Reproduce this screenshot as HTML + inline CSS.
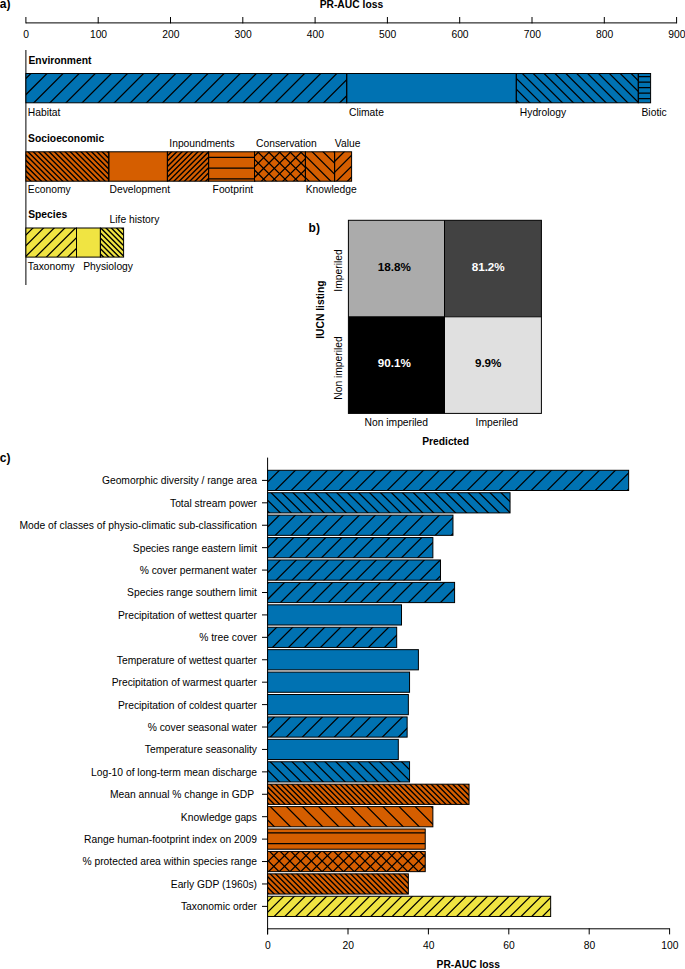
<!DOCTYPE html>
<html><head><meta charset="utf-8"><title>Figure</title>
<style>html,body{margin:0;padding:0;background:#fff;}body{width:685px;height:969px;overflow:hidden;font-family:"Liberation Sans",sans-serif;}svg{display:block;}</style></head>
<body>
<svg width="685" height="969" viewBox="0 0 685 969" font-family="'Liberation Sans', sans-serif" font-size="10.3"><defs><clipPath id="c1"><rect x="25.9" y="73.5" width="320.8" height="29.3"/></clipPath><clipPath id="c2"><rect x="516.3" y="73.5" width="122" height="29.3"/></clipPath><clipPath id="c3"><rect x="638.3" y="73.5" width="12.3" height="29.3"/></clipPath><clipPath id="c4"><rect x="25.9" y="151.8" width="82.9" height="29.4"/></clipPath><clipPath id="c5"><rect x="167.4" y="151.8" width="41.2" height="29.4"/></clipPath><clipPath id="c6"><rect x="208.6" y="151.8" width="45.9" height="29.4"/></clipPath><clipPath id="c7"><rect x="254.5" y="151.8" width="50.9" height="29.4"/></clipPath><clipPath id="c8"><rect x="254.5" y="151.8" width="50.9" height="29.4"/></clipPath><clipPath id="c9"><rect x="305.4" y="151.8" width="29.2" height="29.4"/></clipPath><clipPath id="c10"><rect x="334.6" y="151.8" width="17" height="29.4"/></clipPath><clipPath id="c11"><rect x="25.9" y="228" width="50.6" height="29.1"/></clipPath><clipPath id="c12"><rect x="100.4" y="228" width="23.2" height="29.1"/></clipPath><clipPath id="c13"><rect x="267.6" y="470.3" width="361.04" height="20.2"/></clipPath><clipPath id="c14"><rect x="267.6" y="492.72" width="242.45" height="20.2"/></clipPath><clipPath id="c15"><rect x="267.6" y="515.14" width="185.37" height="20.2"/></clipPath><clipPath id="c16"><rect x="267.6" y="537.56" width="165.27" height="20.2"/></clipPath><clipPath id="c17"><rect x="267.6" y="559.98" width="172.91" height="20.2"/></clipPath><clipPath id="c18"><rect x="267.6" y="582.4" width="186.98" height="20.2"/></clipPath><clipPath id="c19"><rect x="267.6" y="627.24" width="129.09" height="20.2"/></clipPath><clipPath id="c20"><rect x="267.6" y="716.92" width="139.54" height="20.2"/></clipPath><clipPath id="c21"><rect x="267.6" y="761.76" width="141.95" height="20.2"/></clipPath><clipPath id="c22"><rect x="267.6" y="784.18" width="201.45" height="20.2"/></clipPath><clipPath id="c23"><rect x="267.6" y="806.6" width="165.27" height="20.2"/></clipPath><clipPath id="c24"><rect x="267.6" y="829.02" width="157.63" height="20.2"/></clipPath><clipPath id="c25"><rect x="267.6" y="851.44" width="157.63" height="20.2"/></clipPath><clipPath id="c26"><rect x="267.6" y="851.44" width="157.63" height="20.2"/></clipPath><clipPath id="c27"><rect x="267.6" y="873.86" width="140.75" height="20.2"/></clipPath><clipPath id="c28"><rect x="267.6" y="896.28" width="283.06" height="20.2"/></clipPath></defs>
<text x="-0.3" y="8.4" font-size="12" fill="#000" font-weight="bold">a)</text>
<text x="351.4" y="8.2" font-size="10.3" fill="#000" font-weight="bold" text-anchor="middle">PR-AUC loss</text>
<line x1="25.9" y1="22.9" x2="676.6" y2="22.9" stroke="#000" stroke-width="1"/>
<line x1="25.9" y1="17" x2="25.9" y2="23.4" stroke="#000" stroke-width="1"/>
<text x="26.2" y="37.8" font-size="10.3" fill="#000" text-anchor="middle">0</text>
<line x1="98.2" y1="17" x2="98.2" y2="23.4" stroke="#000" stroke-width="1"/>
<text x="98.5" y="37.8" font-size="10.3" fill="#000" text-anchor="middle">100</text>
<line x1="170.5" y1="17" x2="170.5" y2="23.4" stroke="#000" stroke-width="1"/>
<text x="170.8" y="37.8" font-size="10.3" fill="#000" text-anchor="middle">200</text>
<line x1="242.8" y1="17" x2="242.8" y2="23.4" stroke="#000" stroke-width="1"/>
<text x="243.1" y="37.8" font-size="10.3" fill="#000" text-anchor="middle">300</text>
<line x1="315.1" y1="17" x2="315.1" y2="23.4" stroke="#000" stroke-width="1"/>
<text x="315.4" y="37.8" font-size="10.3" fill="#000" text-anchor="middle">400</text>
<line x1="387.4" y1="17" x2="387.4" y2="23.4" stroke="#000" stroke-width="1"/>
<text x="387.7" y="37.8" font-size="10.3" fill="#000" text-anchor="middle">500</text>
<line x1="459.7" y1="17" x2="459.7" y2="23.4" stroke="#000" stroke-width="1"/>
<text x="460" y="37.8" font-size="10.3" fill="#000" text-anchor="middle">600</text>
<line x1="532" y1="17" x2="532" y2="23.4" stroke="#000" stroke-width="1"/>
<text x="532.3" y="37.8" font-size="10.3" fill="#000" text-anchor="middle">700</text>
<line x1="604.3" y1="17" x2="604.3" y2="23.4" stroke="#000" stroke-width="1"/>
<text x="604.6" y="37.8" font-size="10.3" fill="#000" text-anchor="middle">800</text>
<line x1="676.6" y1="17" x2="676.6" y2="23.4" stroke="#000" stroke-width="1"/>
<text x="676.9" y="37.8" font-size="10.3" fill="#000" text-anchor="middle">900</text>
<line x1="25.9" y1="50" x2="25.9" y2="285" stroke="#000" stroke-width="1"/>
<text x="28.5" y="64" font-size="10.3" fill="#000" font-weight="bold">Environment</text>
<rect x="25.9" y="73.5" width="320.8" height="29.3" fill="#0072B2" stroke="none" stroke-width="1"/>
<rect x="346.7" y="73.5" width="169.6" height="29.3" fill="#0072B2" stroke="none" stroke-width="1"/>
<rect x="516.3" y="73.5" width="122" height="29.3" fill="#0072B2" stroke="none" stroke-width="1"/>
<rect x="638.3" y="73.5" width="12.3" height="29.3" fill="#0072B2" stroke="none" stroke-width="1"/>
<path clip-path="url(#c1)" d="M0.6 103.8L31.9 72.5M16.7 103.8L48 72.5M32.8 103.8L64.1 72.5M48.9 103.8L80.2 72.5M65 103.8L96.3 72.5M81.1 103.8L112.4 72.5M97.2 103.8L128.5 72.5M113.3 103.8L144.6 72.5M129.4 103.8L160.7 72.5M145.5 103.8L176.8 72.5M161.6 103.8L192.9 72.5M177.7 103.8L209 72.5M193.8 103.8L225.1 72.5M209.9 103.8L241.2 72.5M226 103.8L257.3 72.5M242.1 103.8L273.4 72.5M258.2 103.8L289.5 72.5M274.3 103.8L305.6 72.5M290.4 103.8L321.7 72.5M306.5 103.8L337.8 72.5M322.6 103.8L353.9 72.5M338.7 103.8L370 72.5" stroke="#000" stroke-width="1.25" fill="none"/>
<path clip-path="url(#c2)" d="M488.72 72.5L520.02 103.8M499.6 72.5L530.9 103.8M510.48 72.5L541.78 103.8M521.36 72.5L552.66 103.8M532.24 72.5L563.54 103.8M543.12 72.5L574.42 103.8M554 72.5L585.3 103.8M564.88 72.5L596.18 103.8M575.76 72.5L607.06 103.8M586.64 72.5L617.94 103.8M597.52 72.5L628.82 103.8M608.4 72.5L639.7 103.8M619.28 72.5L650.58 103.8M630.16 72.5L661.46 103.8" stroke="#000" stroke-width="1.25" fill="none"/>
<path clip-path="url(#c3)" d="M638.3 76.7L650.6 76.7M638.3 82.15L650.6 82.15M638.3 87.6L650.6 87.6M638.3 93.05L650.6 93.05M638.3 98.5L650.6 98.5" stroke="#000" stroke-width="1.25" fill="none"/>
<rect x="25.9" y="73.5" width="320.8" height="29.3" fill="none" stroke="#000" stroke-width="1"/>
<rect x="346.7" y="73.5" width="169.6" height="29.3" fill="none" stroke="#000" stroke-width="1"/>
<rect x="516.3" y="73.5" width="122" height="29.3" fill="none" stroke="#000" stroke-width="1"/>
<rect x="638.3" y="73.5" width="12.3" height="29.3" fill="none" stroke="#000" stroke-width="1"/>
<text x="27.8" y="116" font-size="10.3" fill="#000">Habitat</text>
<text x="349" y="116" font-size="10.3" fill="#000">Climate</text>
<text x="519.8" y="116" font-size="10.3" fill="#000">Hydrology</text>
<text x="641.5" y="116" font-size="10.3" fill="#000">Biotic</text>
<text x="28.1" y="142" font-size="10.3" fill="#000" font-weight="bold">Socioeconomic</text>
<rect x="25.9" y="151.8" width="82.9" height="29.4" fill="#D55E00" stroke="none" stroke-width="1"/>
<rect x="108.8" y="151.8" width="58.6" height="29.4" fill="#D55E00" stroke="none" stroke-width="1"/>
<rect x="167.4" y="151.8" width="41.2" height="29.4" fill="#D55E00" stroke="none" stroke-width="1"/>
<rect x="208.6" y="151.8" width="45.9" height="29.4" fill="#D55E00" stroke="none" stroke-width="1"/>
<rect x="254.5" y="151.8" width="50.9" height="29.4" fill="#D55E00" stroke="none" stroke-width="1"/>
<rect x="305.4" y="151.8" width="29.2" height="29.4" fill="#D55E00" stroke="none" stroke-width="1"/>
<rect x="334.6" y="151.8" width="17" height="29.4" fill="#D55E00" stroke="none" stroke-width="1"/>
<path clip-path="url(#c4)" d="M0.5 150.8L31.9 182.2M5.8 150.8L37.2 182.2M11.1 150.8L42.5 182.2M16.4 150.8L47.8 182.2M21.7 150.8L53.1 182.2M27 150.8L58.4 182.2M32.3 150.8L63.7 182.2M37.6 150.8L69 182.2M42.9 150.8L74.3 182.2M48.2 150.8L79.6 182.2M53.5 150.8L84.9 182.2M58.8 150.8L90.2 182.2M64.1 150.8L95.5 182.2M69.4 150.8L100.8 182.2M74.7 150.8L106.1 182.2M80 150.8L111.4 182.2M85.3 150.8L116.7 182.2M90.6 150.8L122 182.2M95.9 150.8L127.3 182.2M101.2 150.8L132.6 182.2M106.5 150.8L137.9 182.2" stroke="#000" stroke-width="1.4" fill="none"/>
<path clip-path="url(#c5)" d="M141.1 182.2L172.5 150.8M146.4 182.2L177.8 150.8M151.7 182.2L183.1 150.8M157 182.2L188.4 150.8M162.3 182.2L193.7 150.8M167.6 182.2L199 150.8M172.9 182.2L204.3 150.8M178.2 182.2L209.6 150.8M183.5 182.2L214.9 150.8M188.8 182.2L220.2 150.8M194.1 182.2L225.5 150.8M199.4 182.2L230.8 150.8M204.7 182.2L236.1 150.8" stroke="#000" stroke-width="1.4" fill="none"/>
<path clip-path="url(#c6)" d="M208.6 157.35L254.5 157.35M208.6 168.1L254.5 168.1M208.6 178.85L254.5 178.85" stroke="#000" stroke-width="1.25" fill="none"/>
<path clip-path="url(#c7)" d="M228.4 182.2L259.8 150.8M239.1 182.2L270.5 150.8M249.8 182.2L281.2 150.8M260.5 182.2L291.9 150.8M271.2 182.2L302.6 150.8M281.9 182.2L313.3 150.8M292.6 182.2L324 150.8M303.3 182.2L334.7 150.8" stroke="#000" stroke-width="1.25" fill="none"/>
<path clip-path="url(#c8)" d="M224.6 150.8L256 182.2M235.3 150.8L266.7 182.2M246 150.8L277.4 182.2M256.7 150.8L288.1 182.2M267.4 150.8L298.8 182.2M278.1 150.8L309.5 182.2M288.8 150.8L320.2 182.2M299.5 150.8L330.9 182.2" stroke="#000" stroke-width="1.25" fill="none"/>
<path clip-path="url(#c9)" d="M278.7 150.8L310.1 182.2M289.55 150.8L320.95 182.2M300.4 150.8L331.8 182.2M311.25 150.8L342.65 182.2M322.1 150.8L353.5 182.2M332.95 150.8L364.35 182.2" stroke="#000" stroke-width="1.25" fill="none"/>
<path clip-path="url(#c10)" d="M313.8 182.2L345.2 150.8M324.7 182.2L356.1 150.8M335.6 182.2L367 150.8M346.5 182.2L377.9 150.8" stroke="#000" stroke-width="1.25" fill="none"/>
<rect x="25.9" y="151.8" width="82.9" height="29.4" fill="none" stroke="#000" stroke-width="1"/>
<rect x="108.8" y="151.8" width="58.6" height="29.4" fill="none" stroke="#000" stroke-width="1"/>
<rect x="167.4" y="151.8" width="41.2" height="29.4" fill="none" stroke="#000" stroke-width="1"/>
<rect x="208.6" y="151.8" width="45.9" height="29.4" fill="none" stroke="#000" stroke-width="1"/>
<rect x="254.5" y="151.8" width="50.9" height="29.4" fill="none" stroke="#000" stroke-width="1"/>
<rect x="305.4" y="151.8" width="29.2" height="29.4" fill="none" stroke="#000" stroke-width="1"/>
<rect x="334.6" y="151.8" width="17" height="29.4" fill="none" stroke="#000" stroke-width="1"/>
<text x="27.8" y="192.7" font-size="10.3" fill="#000">Economy</text>
<text x="109.5" y="192.7" font-size="10.3" fill="#000">Development</text>
<text x="169.3" y="146.5" font-size="10.3" fill="#000">Inpoundments</text>
<text x="212.6" y="192.7" font-size="10.3" fill="#000">Footprint</text>
<text x="256" y="146.5" font-size="10.3" fill="#000">Conservation</text>
<text x="305.7" y="192.7" font-size="10.3" fill="#000">Knowledge</text>
<text x="334.8" y="146.5" font-size="10.3" fill="#000">Value</text>
<text x="28.2" y="217.9" font-size="10.3" fill="#000" font-weight="bold">Species</text>
<rect x="25.9" y="228" width="50.6" height="29.1" fill="#F0E442" stroke="none" stroke-width="1"/>
<rect x="76.5" y="228" width="23.9" height="29.1" fill="#F0E442" stroke="none" stroke-width="1"/>
<rect x="100.4" y="228" width="23.2" height="29.1" fill="#F0E442" stroke="none" stroke-width="1"/>
<path clip-path="url(#c11)" d="M2.8 258.1L33.9 227M13.45 258.1L44.55 227M24.1 258.1L55.2 227M34.75 258.1L65.85 227M45.4 258.1L76.5 227M56.05 258.1L87.15 227M66.7 258.1L97.8 227" stroke="#000" stroke-width="1.25" fill="none"/>
<path clip-path="url(#c12)" d="M73.43 227L104.53 258.1M78.7 227L109.8 258.1M83.97 227L115.07 258.1M89.24 227L120.34 258.1M94.51 227L125.61 258.1M99.78 227L130.88 258.1M105.05 227L136.15 258.1M110.32 227L141.42 258.1M115.59 227L146.69 258.1M120.86 227L151.96 258.1" stroke="#000" stroke-width="1.4" fill="none"/>
<rect x="25.9" y="228" width="50.6" height="29.1" fill="none" stroke="#000" stroke-width="1"/>
<rect x="76.5" y="228" width="23.9" height="29.1" fill="none" stroke="#000" stroke-width="1"/>
<rect x="100.4" y="228" width="23.2" height="29.1" fill="none" stroke="#000" stroke-width="1"/>
<text x="27.8" y="269.6" font-size="10.3" fill="#000">Taxonomy</text>
<text x="83.2" y="269.6" font-size="10.3" fill="#000">Physiology</text>
<text x="109.5" y="223.3" font-size="10.3" fill="#000">Life history</text>
<text x="308.6" y="232.2" font-size="12" fill="#000" font-weight="bold">b)</text>
<rect x="348.4" y="220.3" width="96.1" height="96.5" fill="#ABABAB" stroke="none" stroke-width="1"/>
<rect x="444.5" y="220.3" width="96.9" height="96.5" fill="#424242" stroke="none" stroke-width="1"/>
<rect x="348.4" y="316.8" width="96.1" height="96.6" fill="#000000" stroke="none" stroke-width="1"/>
<rect x="444.5" y="316.8" width="96.9" height="96.6" fill="#E0E0E0" stroke="none" stroke-width="1"/>
<line x1="444.5" y1="220.3" x2="444.5" y2="413.4" stroke="#000" stroke-width="1"/>
<line x1="348.4" y1="316.8" x2="541.4" y2="316.8" stroke="#000" stroke-width="1"/>
<rect x="348.4" y="220.3" width="193" height="193.1" fill="none" stroke="#000" stroke-width="1"/>
<text x="394.4" y="271" font-size="11.7" fill="#000" font-weight="bold" text-anchor="middle">18.8%</text>
<text x="488.2" y="271" font-size="11.7" fill="#fff" font-weight="bold" text-anchor="middle">81.2%</text>
<text x="394.4" y="367.2" font-size="11.7" fill="#fff" font-weight="bold" text-anchor="middle">90.1%</text>
<text x="488.2" y="367.2" font-size="11.7" fill="#000" font-weight="bold" text-anchor="middle">9.9%</text>
<text x="324.1" y="309.6" font-size="10.3" fill="#000" font-weight="bold" text-anchor="middle" transform="rotate(-90 324.1 309.6)">IUCN listing</text>
<text x="342" y="270.5" font-size="10.3" fill="#000" text-anchor="middle" transform="rotate(-90 342 270.5)">Imperiled</text>
<text x="342" y="368" font-size="10.3" fill="#000" text-anchor="middle" transform="rotate(-90 342 368)">Non imperiled</text>
<text x="396.3" y="425.6" font-size="10.3" fill="#000" text-anchor="middle">Non imperiled</text>
<text x="496.8" y="425.6" font-size="10.3" fill="#000" text-anchor="middle">Imperiled</text>
<text x="445.6" y="445.2" font-size="10.3" fill="#000" font-weight="bold" text-anchor="middle">Predicted</text>
<text x="-0.2" y="462" font-size="12" fill="#000" font-weight="bold">c)</text>
<line x1="267.6" y1="457.6" x2="267.6" y2="934.4" stroke="#000" stroke-width="1"/>
<line x1="267.6" y1="928.8" x2="669.6" y2="928.8" stroke="#000" stroke-width="1"/>
<line x1="267.6" y1="928.3" x2="267.6" y2="934.4" stroke="#000" stroke-width="1"/>
<text x="267.9" y="948.8" font-size="10.3" fill="#000" text-anchor="middle">0</text>
<line x1="348" y1="928.3" x2="348" y2="934.4" stroke="#000" stroke-width="1"/>
<text x="348.3" y="948.8" font-size="10.3" fill="#000" text-anchor="middle">20</text>
<line x1="428.4" y1="928.3" x2="428.4" y2="934.4" stroke="#000" stroke-width="1"/>
<text x="428.7" y="948.8" font-size="10.3" fill="#000" text-anchor="middle">40</text>
<line x1="508.8" y1="928.3" x2="508.8" y2="934.4" stroke="#000" stroke-width="1"/>
<text x="509.1" y="948.8" font-size="10.3" fill="#000" text-anchor="middle">60</text>
<line x1="589.2" y1="928.3" x2="589.2" y2="934.4" stroke="#000" stroke-width="1"/>
<text x="589.5" y="948.8" font-size="10.3" fill="#000" text-anchor="middle">80</text>
<line x1="669.6" y1="928.3" x2="669.6" y2="934.4" stroke="#000" stroke-width="1"/>
<text x="669.9" y="948.8" font-size="10.3" fill="#000" text-anchor="middle">100</text>
<text x="468.3" y="968.2" font-size="10.3" fill="#000" font-weight="bold" text-anchor="middle">PR-AUC loss</text>
<rect x="267.6" y="470.3" width="361.04" height="20.2" fill="#0072B2" stroke="none" stroke-width="1"/>
<path clip-path="url(#c13)" d="M258.2 491.5L280.4 469.3M274.2 491.5L296.4 469.3M290.2 491.5L312.4 469.3M306.2 491.5L328.4 469.3M322.2 491.5L344.4 469.3M338.2 491.5L360.4 469.3M354.2 491.5L376.4 469.3M370.2 491.5L392.4 469.3M386.2 491.5L408.4 469.3M402.2 491.5L424.4 469.3M418.2 491.5L440.4 469.3M434.2 491.5L456.4 469.3M450.2 491.5L472.4 469.3M466.2 491.5L488.4 469.3M482.2 491.5L504.4 469.3M498.2 491.5L520.4 469.3M514.2 491.5L536.4 469.3M530.2 491.5L552.4 469.3M546.2 491.5L568.4 469.3M562.2 491.5L584.4 469.3M578.2 491.5L600.4 469.3M594.2 491.5L616.4 469.3M610.2 491.5L632.4 469.3M626.2 491.5L648.4 469.3" stroke="#000" stroke-width="1.25" fill="none"/>
<rect x="267.6" y="470.3" width="361.04" height="20.2" fill="none" stroke="#000" stroke-width="1"/>
<line x1="262" y1="480.4" x2="267.6" y2="480.4" stroke="#000" stroke-width="1"/>
<text x="257" y="484.3" font-size="10.3" fill="#000" text-anchor="end">Geomorphic diversity / range area</text>
<rect x="267.6" y="492.72" width="242.45" height="20.2" fill="#0072B2" stroke="none" stroke-width="1"/>
<path clip-path="url(#c14)" d="M248.25 491.72L270.45 513.92M259.2 491.72L281.4 513.92M270.15 491.72L292.35 513.92M281.1 491.72L303.3 513.92M292.05 491.72L314.25 513.92M303 491.72L325.2 513.92M313.95 491.72L336.15 513.92M324.9 491.72L347.1 513.92M335.85 491.72L358.05 513.92M346.8 491.72L369 513.92M357.75 491.72L379.95 513.92M368.7 491.72L390.9 513.92M379.65 491.72L401.85 513.92M390.6 491.72L412.8 513.92M401.55 491.72L423.75 513.92M412.5 491.72L434.7 513.92M423.45 491.72L445.65 513.92M434.4 491.72L456.6 513.92M445.35 491.72L467.55 513.92M456.3 491.72L478.5 513.92M467.25 491.72L489.45 513.92M478.2 491.72L500.4 513.92M489.15 491.72L511.35 513.92M500.1 491.72L522.3 513.92" stroke="#000" stroke-width="1.25" fill="none"/>
<rect x="267.6" y="492.72" width="242.45" height="20.2" fill="none" stroke="#000" stroke-width="1"/>
<line x1="262" y1="502.82" x2="267.6" y2="502.82" stroke="#000" stroke-width="1"/>
<text x="257" y="506.72" font-size="10.3" fill="#000" text-anchor="end">Total stream power</text>
<rect x="267.6" y="515.14" width="185.37" height="20.2" fill="#0072B2" stroke="none" stroke-width="1"/>
<path clip-path="url(#c15)" d="M258.2 536.34L280.4 514.14M274.2 536.34L296.4 514.14M290.2 536.34L312.4 514.14M306.2 536.34L328.4 514.14M322.2 536.34L344.4 514.14M338.2 536.34L360.4 514.14M354.2 536.34L376.4 514.14M370.2 536.34L392.4 514.14M386.2 536.34L408.4 514.14M402.2 536.34L424.4 514.14M418.2 536.34L440.4 514.14M434.2 536.34L456.4 514.14M450.2 536.34L472.4 514.14" stroke="#000" stroke-width="1.25" fill="none"/>
<rect x="267.6" y="515.14" width="185.37" height="20.2" fill="none" stroke="#000" stroke-width="1"/>
<line x1="262" y1="525.24" x2="267.6" y2="525.24" stroke="#000" stroke-width="1"/>
<text x="257" y="529.14" font-size="10.3" fill="#000" text-anchor="end">Mode of classes of physio-climatic sub-classification</text>
<rect x="267.6" y="537.56" width="165.27" height="20.2" fill="#0072B2" stroke="none" stroke-width="1"/>
<path clip-path="url(#c16)" d="M256.5 558.76L278.7 536.56M272.5 558.76L294.7 536.56M288.5 558.76L310.7 536.56M304.5 558.76L326.7 536.56M320.5 558.76L342.7 536.56M336.5 558.76L358.7 536.56M352.5 558.76L374.7 536.56M368.5 558.76L390.7 536.56M384.5 558.76L406.7 536.56M400.5 558.76L422.7 536.56M416.5 558.76L438.7 536.56" stroke="#000" stroke-width="1.25" fill="none"/>
<rect x="267.6" y="537.56" width="165.27" height="20.2" fill="none" stroke="#000" stroke-width="1"/>
<line x1="262" y1="547.66" x2="267.6" y2="547.66" stroke="#000" stroke-width="1"/>
<text x="257" y="551.56" font-size="10.3" fill="#000" text-anchor="end">Species range eastern limit</text>
<rect x="267.6" y="559.98" width="172.91" height="20.2" fill="#0072B2" stroke="none" stroke-width="1"/>
<path clip-path="url(#c17)" d="M259.1 581.18L281.3 558.98M275.1 581.18L297.3 558.98M291.1 581.18L313.3 558.98M307.1 581.18L329.3 558.98M323.1 581.18L345.3 558.98M339.1 581.18L361.3 558.98M355.1 581.18L377.3 558.98M371.1 581.18L393.3 558.98M387.1 581.18L409.3 558.98M403.1 581.18L425.3 558.98M419.1 581.18L441.3 558.98M435.1 581.18L457.3 558.98" stroke="#000" stroke-width="1.25" fill="none"/>
<rect x="267.6" y="559.98" width="172.91" height="20.2" fill="none" stroke="#000" stroke-width="1"/>
<line x1="262" y1="570.08" x2="267.6" y2="570.08" stroke="#000" stroke-width="1"/>
<text x="257" y="573.98" font-size="10.3" fill="#000" text-anchor="end">% cover permanent water</text>
<rect x="267.6" y="582.4" width="186.98" height="20.2" fill="#0072B2" stroke="none" stroke-width="1"/>
<path clip-path="url(#c18)" d="M247.4 603.6L269.6 581.4M263.4 603.6L285.6 581.4M279.4 603.6L301.6 581.4M295.4 603.6L317.6 581.4M311.4 603.6L333.6 581.4M327.4 603.6L349.6 581.4M343.4 603.6L365.6 581.4M359.4 603.6L381.6 581.4M375.4 603.6L397.6 581.4M391.4 603.6L413.6 581.4M407.4 603.6L429.6 581.4M423.4 603.6L445.6 581.4M439.4 603.6L461.6 581.4" stroke="#000" stroke-width="1.25" fill="none"/>
<rect x="267.6" y="582.4" width="186.98" height="20.2" fill="none" stroke="#000" stroke-width="1"/>
<line x1="262" y1="592.5" x2="267.6" y2="592.5" stroke="#000" stroke-width="1"/>
<text x="257" y="596.4" font-size="10.3" fill="#000" text-anchor="end">Species range southern limit</text>
<rect x="267.6" y="604.82" width="133.91" height="20.2" fill="#0072B2" stroke="none" stroke-width="1"/>
<rect x="267.6" y="604.82" width="133.91" height="20.2" fill="none" stroke="#000" stroke-width="1"/>
<line x1="262" y1="614.92" x2="267.6" y2="614.92" stroke="#000" stroke-width="1"/>
<text x="257" y="618.82" font-size="10.3" fill="#000" text-anchor="end">Precipitation of wettest quarter</text>
<rect x="267.6" y="627.24" width="129.09" height="20.2" fill="#0072B2" stroke="none" stroke-width="1"/>
<path clip-path="url(#c19)" d="M255.5 648.44L277.7 626.24M271.5 648.44L293.7 626.24M287.5 648.44L309.7 626.24M303.5 648.44L325.7 626.24M319.5 648.44L341.7 626.24M335.5 648.44L357.7 626.24M351.5 648.44L373.7 626.24M367.5 648.44L389.7 626.24M383.5 648.44L405.7 626.24" stroke="#000" stroke-width="1.25" fill="none"/>
<rect x="267.6" y="627.24" width="129.09" height="20.2" fill="none" stroke="#000" stroke-width="1"/>
<line x1="262" y1="637.34" x2="267.6" y2="637.34" stroke="#000" stroke-width="1"/>
<text x="257" y="641.24" font-size="10.3" fill="#000" text-anchor="end">% tree cover</text>
<rect x="267.6" y="649.66" width="150.8" height="20.2" fill="#0072B2" stroke="none" stroke-width="1"/>
<rect x="267.6" y="649.66" width="150.8" height="20.2" fill="none" stroke="#000" stroke-width="1"/>
<line x1="262" y1="659.76" x2="267.6" y2="659.76" stroke="#000" stroke-width="1"/>
<text x="257" y="663.66" font-size="10.3" fill="#000" text-anchor="end">Temperature of wettest quarter</text>
<rect x="267.6" y="672.08" width="141.95" height="20.2" fill="#0072B2" stroke="none" stroke-width="1"/>
<rect x="267.6" y="672.08" width="141.95" height="20.2" fill="none" stroke="#000" stroke-width="1"/>
<line x1="262" y1="682.18" x2="267.6" y2="682.18" stroke="#000" stroke-width="1"/>
<text x="257" y="686.08" font-size="10.3" fill="#000" text-anchor="end">Precipitation of warmest quarter</text>
<rect x="267.6" y="694.5" width="140.75" height="20.2" fill="#0072B2" stroke="none" stroke-width="1"/>
<rect x="267.6" y="694.5" width="140.75" height="20.2" fill="none" stroke="#000" stroke-width="1"/>
<line x1="262" y1="704.6" x2="267.6" y2="704.6" stroke="#000" stroke-width="1"/>
<text x="257" y="708.5" font-size="10.3" fill="#000" text-anchor="end">Precipitation of coldest quarter</text>
<rect x="267.6" y="716.92" width="139.54" height="20.2" fill="#0072B2" stroke="none" stroke-width="1"/>
<path clip-path="url(#c20)" d="M253.3 738.12L275.5 715.92M269.3 738.12L291.5 715.92M285.3 738.12L307.5 715.92M301.3 738.12L323.5 715.92M317.3 738.12L339.5 715.92M333.3 738.12L355.5 715.92M349.3 738.12L371.5 715.92M365.3 738.12L387.5 715.92M381.3 738.12L403.5 715.92M397.3 738.12L419.5 715.92" stroke="#000" stroke-width="1.25" fill="none"/>
<rect x="267.6" y="716.92" width="139.54" height="20.2" fill="none" stroke="#000" stroke-width="1"/>
<line x1="262" y1="727.02" x2="267.6" y2="727.02" stroke="#000" stroke-width="1"/>
<text x="257" y="730.92" font-size="10.3" fill="#000" text-anchor="end">% cover seasonal water</text>
<rect x="267.6" y="739.34" width="130.7" height="20.2" fill="#0072B2" stroke="none" stroke-width="1"/>
<rect x="267.6" y="739.34" width="130.7" height="20.2" fill="none" stroke="#000" stroke-width="1"/>
<line x1="262" y1="749.44" x2="267.6" y2="749.44" stroke="#000" stroke-width="1"/>
<text x="257" y="753.34" font-size="10.3" fill="#000" text-anchor="end">Temperature seasonality</text>
<rect x="267.6" y="761.76" width="141.95" height="20.2" fill="#0072B2" stroke="none" stroke-width="1"/>
<path clip-path="url(#c21)" d="M247.35 760.76L269.55 782.96M258.3 760.76L280.5 782.96M269.25 760.76L291.45 782.96M280.2 760.76L302.4 782.96M291.15 760.76L313.35 782.96M302.1 760.76L324.3 782.96M313.05 760.76L335.25 782.96M324 760.76L346.2 782.96M334.95 760.76L357.15 782.96M345.9 760.76L368.1 782.96M356.85 760.76L379.05 782.96M367.8 760.76L390 782.96M378.75 760.76L400.95 782.96M389.7 760.76L411.9 782.96M400.65 760.76L422.85 782.96" stroke="#000" stroke-width="1.25" fill="none"/>
<rect x="267.6" y="761.76" width="141.95" height="20.2" fill="none" stroke="#000" stroke-width="1"/>
<line x1="262" y1="771.86" x2="267.6" y2="771.86" stroke="#000" stroke-width="1"/>
<text x="257" y="775.76" font-size="10.3" fill="#000" text-anchor="end">Log-10 of long-term mean discharge</text>
<rect x="267.6" y="784.18" width="201.45" height="20.2" fill="#D55E00" stroke="none" stroke-width="1"/>
<path clip-path="url(#c22)" d="M247.89 783.18L270.09 805.38M253.25 783.18L275.45 805.38M258.61 783.18L280.81 805.38M263.97 783.18L286.17 805.38M269.33 783.18L291.53 805.38M274.69 783.18L296.89 805.38M280.05 783.18L302.25 805.38M285.41 783.18L307.61 805.38M290.77 783.18L312.97 805.38M296.13 783.18L318.33 805.38M301.49 783.18L323.69 805.38M306.85 783.18L329.05 805.38M312.21 783.18L334.41 805.38M317.57 783.18L339.77 805.38M322.93 783.18L345.13 805.38M328.29 783.18L350.49 805.38M333.65 783.18L355.85 805.38M339.01 783.18L361.21 805.38M344.37 783.18L366.57 805.38M349.73 783.18L371.93 805.38M355.09 783.18L377.29 805.38M360.45 783.18L382.65 805.38M365.81 783.18L388.01 805.38M371.17 783.18L393.37 805.38M376.53 783.18L398.73 805.38M381.89 783.18L404.09 805.38M387.25 783.18L409.45 805.38M392.61 783.18L414.81 805.38M397.97 783.18L420.17 805.38M403.33 783.18L425.53 805.38M408.69 783.18L430.89 805.38M414.05 783.18L436.25 805.38M419.41 783.18L441.61 805.38M424.77 783.18L446.97 805.38M430.13 783.18L452.33 805.38M435.49 783.18L457.69 805.38M440.85 783.18L463.05 805.38M446.21 783.18L468.41 805.38M451.57 783.18L473.77 805.38M456.93 783.18L479.13 805.38M462.29 783.18L484.49 805.38M467.65 783.18L489.85 805.38" stroke="#000" stroke-width="1.4" fill="none"/>
<rect x="267.6" y="784.18" width="201.45" height="20.2" fill="none" stroke="#000" stroke-width="1"/>
<line x1="262" y1="794.28" x2="267.6" y2="794.28" stroke="#000" stroke-width="1"/>
<text x="254.14" y="798.18" font-size="10.3" fill="#000" text-anchor="end">Mean annual % change in GDP</text>
<rect x="267.6" y="806.6" width="165.27" height="20.2" fill="#D55E00" stroke="none" stroke-width="1"/>
<path clip-path="url(#c23)" d="M253.25 805.6L275.45 827.8M269.35 805.6L291.55 827.8M285.45 805.6L307.65 827.8M301.55 805.6L323.75 827.8M317.65 805.6L339.85 827.8M333.75 805.6L355.95 827.8M349.85 805.6L372.05 827.8M365.95 805.6L388.15 827.8M382.05 805.6L404.25 827.8M398.15 805.6L420.35 827.8M414.25 805.6L436.45 827.8M430.35 805.6L452.55 827.8" stroke="#000" stroke-width="1.25" fill="none"/>
<rect x="267.6" y="806.6" width="165.27" height="20.2" fill="none" stroke="#000" stroke-width="1"/>
<line x1="262" y1="816.7" x2="267.6" y2="816.7" stroke="#000" stroke-width="1"/>
<text x="257" y="820.6" font-size="10.3" fill="#000" text-anchor="end">Knowledge gaps</text>
<rect x="267.6" y="829.02" width="157.63" height="20.2" fill="#D55E00" stroke="none" stroke-width="1"/>
<path clip-path="url(#c24)" d="M267.6 832.82L425.23 832.82M267.6 843.52L425.23 843.52" stroke="#000" stroke-width="1.25" fill="none"/>
<rect x="267.6" y="829.02" width="157.63" height="20.2" fill="none" stroke="#000" stroke-width="1"/>
<line x1="262" y1="839.12" x2="267.6" y2="839.12" stroke="#000" stroke-width="1"/>
<text x="257" y="843.02" font-size="10.3" fill="#000" text-anchor="end">Range human-footprint index on 2009</text>
<rect x="267.6" y="851.44" width="157.63" height="20.2" fill="#D55E00" stroke="none" stroke-width="1"/>
<path clip-path="url(#c25)" d="M256.81 872.64L279.01 850.44M267.54 872.64L289.74 850.44M278.27 872.64L300.47 850.44M289 872.64L311.2 850.44M299.73 872.64L321.93 850.44M310.46 872.64L332.66 850.44M321.19 872.64L343.39 850.44M331.92 872.64L354.12 850.44M342.65 872.64L364.85 850.44M353.38 872.64L375.58 850.44M364.11 872.64L386.31 850.44M374.84 872.64L397.04 850.44M385.57 872.64L407.77 850.44M396.3 872.64L418.5 850.44M407.03 872.64L429.23 850.44M417.76 872.64L439.96 850.44" stroke="#000" stroke-width="1.25" fill="none"/>
<path clip-path="url(#c26)" d="M247.13 850.44L269.33 872.64M257.86 850.44L280.06 872.64M268.59 850.44L290.79 872.64M279.32 850.44L301.52 872.64M290.05 850.44L312.25 872.64M300.78 850.44L322.98 872.64M311.51 850.44L333.71 872.64M322.24 850.44L344.44 872.64M332.97 850.44L355.17 872.64M343.7 850.44L365.9 872.64M354.43 850.44L376.63 872.64M365.16 850.44L387.36 872.64M375.89 850.44L398.09 872.64M386.62 850.44L408.82 872.64M397.35 850.44L419.55 872.64M408.08 850.44L430.28 872.64M418.81 850.44L441.01 872.64" stroke="#000" stroke-width="1.25" fill="none"/>
<rect x="267.6" y="851.44" width="157.63" height="20.2" fill="none" stroke="#000" stroke-width="1"/>
<line x1="262" y1="861.54" x2="267.6" y2="861.54" stroke="#000" stroke-width="1"/>
<text x="257" y="865.44" font-size="10.3" fill="#000" text-anchor="end">% protected area within species range</text>
<rect x="267.6" y="873.86" width="140.75" height="20.2" fill="#D55E00" stroke="none" stroke-width="1"/>
<path clip-path="url(#c27)" d="M247.74 872.86L269.94 895.06M253.1 872.86L275.3 895.06M258.46 872.86L280.66 895.06M263.82 872.86L286.02 895.06M269.18 872.86L291.38 895.06M274.54 872.86L296.74 895.06M279.9 872.86L302.1 895.06M285.26 872.86L307.46 895.06M290.62 872.86L312.82 895.06M295.98 872.86L318.18 895.06M301.34 872.86L323.54 895.06M306.7 872.86L328.9 895.06M312.06 872.86L334.26 895.06M317.42 872.86L339.62 895.06M322.78 872.86L344.98 895.06M328.14 872.86L350.34 895.06M333.5 872.86L355.7 895.06M338.86 872.86L361.06 895.06M344.22 872.86L366.42 895.06M349.58 872.86L371.78 895.06M354.94 872.86L377.14 895.06M360.3 872.86L382.5 895.06M365.66 872.86L387.86 895.06M371.02 872.86L393.22 895.06M376.38 872.86L398.58 895.06M381.74 872.86L403.94 895.06M387.1 872.86L409.3 895.06M392.46 872.86L414.66 895.06M397.82 872.86L420.02 895.06M403.18 872.86L425.38 895.06" stroke="#000" stroke-width="1.4" fill="none"/>
<rect x="267.6" y="873.86" width="140.75" height="20.2" fill="none" stroke="#000" stroke-width="1"/>
<line x1="262" y1="883.96" x2="267.6" y2="883.96" stroke="#000" stroke-width="1"/>
<text x="257" y="887.86" font-size="10.3" fill="#000" text-anchor="end">Early GDP (1960s)</text>
<rect x="267.6" y="896.28" width="283.06" height="20.2" fill="#F0E442" stroke="none" stroke-width="1"/>
<path clip-path="url(#c28)" d="M251.74 917.48L273.94 895.28M262.47 917.48L284.67 895.28M273.2 917.48L295.4 895.28M283.93 917.48L306.13 895.28M294.66 917.48L316.86 895.28M305.39 917.48L327.59 895.28M316.12 917.48L338.32 895.28M326.85 917.48L349.05 895.28M337.58 917.48L359.78 895.28M348.31 917.48L370.51 895.28M359.04 917.48L381.24 895.28M369.77 917.48L391.97 895.28M380.5 917.48L402.7 895.28M391.23 917.48L413.43 895.28M401.96 917.48L424.16 895.28M412.69 917.48L434.89 895.28M423.42 917.48L445.62 895.28M434.15 917.48L456.35 895.28M444.88 917.48L467.08 895.28M455.61 917.48L477.81 895.28M466.34 917.48L488.54 895.28M477.07 917.48L499.27 895.28M487.8 917.48L510 895.28M498.53 917.48L520.73 895.28M509.26 917.48L531.46 895.28M519.99 917.48L542.19 895.28M530.72 917.48L552.92 895.28M541.45 917.48L563.65 895.28" stroke="#000" stroke-width="1.25" fill="none"/>
<rect x="267.6" y="896.28" width="283.06" height="20.2" fill="none" stroke="#000" stroke-width="1"/>
<line x1="262" y1="906.38" x2="267.6" y2="906.38" stroke="#000" stroke-width="1"/>
<text x="257" y="910.28" font-size="10.3" fill="#000" text-anchor="end">Taxonomic order</text>
</svg>
</body></html>
